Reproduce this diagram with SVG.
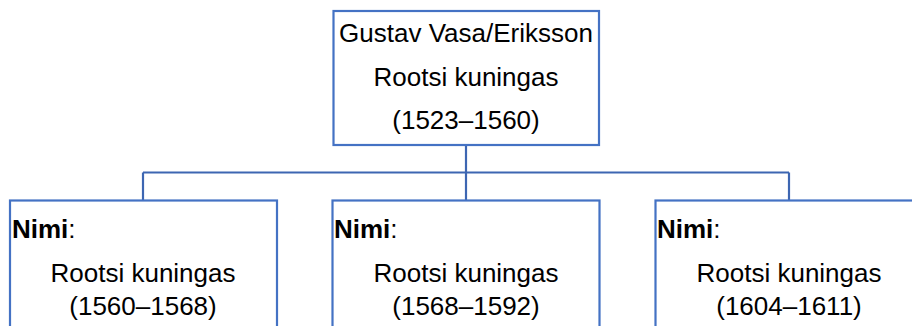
<svg xmlns="http://www.w3.org/2000/svg" width="912" height="326" viewBox="0 0 912 326">
<style>
.box{fill:#ffffff;stroke:#4472C4;stroke-width:2.2}
.con{fill:none;stroke:#3D66B2;stroke-width:2.2}
text{font-family:"Liberation Sans",Arial,sans-serif;font-size:26px;fill:#000000}
.c{text-anchor:middle}
.b{font-weight:bold}
</style>
<rect width="912" height="326" fill="#ffffff"/>
<g id="connectors">
<path class="con" d="M466 145 V200"/>
<path class="con" d="M143 172.5 H789"/>
<path class="con" d="M143 172.5 V200"/>
<path class="con" d="M789 172.5 V200"/>
</g>
<g id="node-top">
<rect class="box" x="333.5" y="11" width="265.5" height="134"/>
<text class="c" x="466" y="42">Gustav Vasa/Eriksson</text>
<text class="c" x="466" y="86">Rootsi kuningas</text>
<text class="c" x="466" y="129">(1523–1560)</text>
</g>
<g id="node-1">
<rect class="box" x="10" y="200.5" width="267" height="140"/>
<text x="12" y="238"><tspan class="b">Nimi</tspan>:</text>
<text class="c" x="143" y="282">Rootsi kuningas</text>
<text class="c" x="143" y="315">(1560–1568)</text>
</g>
<g id="node-2">
<rect class="box" x="332.5" y="200.5" width="267" height="140"/>
<text x="334" y="238"><tspan class="b">Nimi</tspan>:</text>
<text class="c" x="466" y="282">Rootsi kuningas</text>
<text class="c" x="466" y="315">(1568–1592)</text>
</g>
<g id="node-3">
<rect class="box" x="655.5" y="200.5" width="267" height="140"/>
<text x="657" y="238"><tspan class="b">Nimi</tspan>:</text>
<text class="c" x="789" y="282">Rootsi kuningas</text>
<text class="c" x="789" y="315">(1604–1611)</text>
</g>
</svg>
